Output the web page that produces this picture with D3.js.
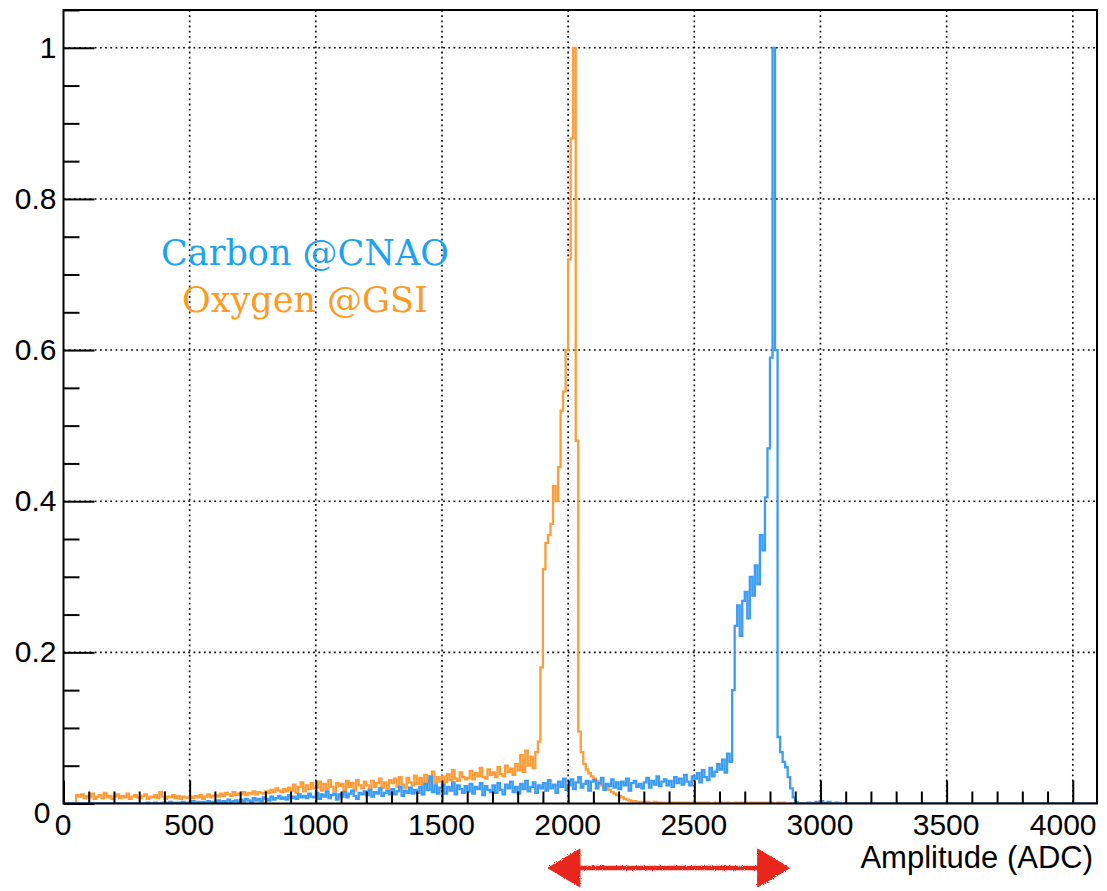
<!DOCTYPE html>
<html>
<head>
<meta charset="utf-8">
<script src="https://cdn.jsdelivr.net/npm/d3@7"></script>
<style>
  body { margin: 0; background: #fff; }
  svg text { font-family: "Liberation Sans", Arial, Helvetica, sans-serif; }
</style>
</head>
<body>
<div id="chart"></div>
<script>
// ADC spectra, 10-channel bins starting at 0, counts scaled so the peak bin is 1000
const binWidth = 10;
const adcMax = 4096;

const carbonCounts = [
  0, 0, 0, 0, 0, 0, 0, 0, 0, 0,
  0, 0, 0, 0, 0, 0, 0, 0, 0, 0,
  0, 0, 0, 0, 0, 0, 0, 0, 0, 0,
  0, 0, 0, 1, 0, 0, 1, 0, 0, 1,
  0, 1, 2, 0, 1, 0, 1, 2, 0, 1,
  1, 3, 0, 2, 1, 2, 0, 3, 1, 2,
  2, 4, 1, 3, 2, 5, 2, 3, 4, 2,
  5, 3, 6, 4, 2, 7, 4, 6, 3, 8,
  6, 4, 9, 5, 7, 10, 6, 8, 5, 11,
  7, 9, 6, 12, 8, 10, 7, 13, 9, 8,
  14, 6, 12, 9, 16, 7, 11, 13, 5, 12,
  9, 15, 8, 13, 17, 10, 6, 14, 12, 16,
  11, 18, 9, 15, 13, 20, 10, 14, 17, 12,
  19, 12, 16, 22, 10, 17, 14, 21, 13, 18,
  14, 22, 12, 26, 18, 36, 15, 24, 13, 21,
  25, 13, 22, 17, 28, 12, 24, 19, 14, 23,
  16, 26, 13, 22, 19, 27, 11, 23, 18, 15,
  24, 14, 27, 18, 12, 25, 20, 29, 15, 22,
  13, 26, 19, 30, 16, 22, 28, 14, 24, 20,
  27, 17, 31, 20, 25, 14, 29, 22, 33, 18,
  24, 32, 19, 28, 35, 21, 26, 30, 17, 29,
  31, 20, 27, 34, 18, 26, 23, 32, 21, 28,
  19, 29, 24, 33, 17, 27, 30, 22, 26, 20,
  28, 34, 21, 30, 25, 36, 23, 29, 32, 24,
  30, 22, 35, 27, 33, 25, 38, 29, 24, 36,
  33, 40, 28, 44, 35, 31, 47, 36, 42, 52,
  45, 58, 41, 66, 55, 150, 235, 262, 222, 268,
  280, 245, 300, 275, 315, 290, 355, 335, 405, 470,
  590, 1000, 600, 88, 68, 55, 48, 35, 20, 8,
  2, 0, 0, 0, 0, 1, 0, 0, 2, 0,
  3, 1, 0, 2, 0, 0, 1, 0, 0, 0
];

const oxygenCounts = [
  0, 0, 0, 0, 0, 11, 9, 12, 7, 10,
  8, 13, 6, 9, 11, 7, 14, 8, 10, 6,
  9, 12, 7, 10, 8, 13, 6, 9, 11, 8,
  7, 10, 12, 6, 9, 8, 11, 7, 15, 9,
  6, 9, 8, 11, 7, 10, 6, 9, 8, 7,
  9, 7, 10, 8, 11, 6, 9, 12, 8, 10,
  11, 9, 13, 10, 14, 12, 10, 15, 11, 13,
  12, 15, 11, 14, 13, 16, 12, 15, 14, 13,
  16, 14, 18, 15, 20, 17, 15, 19, 16, 21,
  17, 25, 14, 22, 28, 16, 24, 19, 27, 20,
  21, 29, 17, 26, 19, 31, 22, 16, 27, 23,
  26, 18, 30, 22, 27, 17, 31, 24, 20, 29,
  24, 19, 30, 22, 27, 33, 21, 28, 20, 31,
  27, 33, 22, 35, 25, 21, 34, 28, 24, 37,
  26, 34, 25, 38, 28, 31, 42, 27, 35, 29,
  36, 28, 39, 31, 44, 33, 30, 41, 35, 32,
  34, 43, 32, 40, 36, 47, 35, 33, 45, 38,
  41, 35, 48, 39, 36, 50, 42, 46, 38, 52,
  44, 64, 42, 70, 50, 62, 47, 68, 82, 180,
  310, 345, 355, 370, 420, 400, 445, 520, 545, 600,
  720, 880, 1000, 480, 95, 68, 52, 45, 40, 36,
  33, 30, 26, 24, 22, 20, 18, 15, 13, 11,
  10, 8, 6, 5, 4, 3, 3, 2, 2, 2,
  1, 2, 1, 1, 2, 1, 1, 1, 0, 1,
  1, 1, 0, 1, 1, 0, 1, 1, 0, 1,
  1, 0, 1, 1, 0, 1, 0, 0, 1, 0,
  0, 1, 0, 1, 0, 0, 1, 0, 1, 0,
  1, 0, 1, 0, 1, 1, 0, 1, 0, 1,
  1, 0, 0, 1, 0, 1, 0, 0, 0, 0
];

const xTicks = [0, 500, 1000, 1500, 2000, 2500, 3000, 3500, 4000];
const yTicks = [0, 0.2, 0.4, 0.6, 0.8, 1];
const legendLabels = ["Carbon @CNAO", "Oxygen @GSI"];
const legendColors = ["#1ca2f2", "#ff9a1f"];
const lineColors = { carbon: "#3a9cf7", oxygen: "#ff9c38" };
// distance between the two peaks, shown under the axis
const arrowRange = [1920, 2878];

const W = 1107, H = 891;
const plot = { left: 63.5, right: 1097, top: 10, bottom: 803.5 };

const svg = d3.select("#chart").append("svg")
  .attr("width", W)
  .attr("height", H)
  .style("display", "block");

const x = d3.scaleLinear().domain([0, adcMax]).range([plot.left, plot.right]);
const y = d3.scaleLinear().domain([0, 1.05]).range([plot.bottom, plot.top]);

// dotted grid at the major ticks
const grid = svg.append("g")
  .attr("stroke", "#000")
  .attr("stroke-width", 1.6)
  .attr("stroke-dasharray", "1.8,3.4");
grid.selectAll("line.gx")
  .data(xTicks.filter(d => d > 0))
  .join("line")
  .attr("x1", d => x(d)).attr("x2", d => x(d))
  .attr("y1", plot.top).attr("y2", plot.bottom);
grid.selectAll("line.gy")
  .data(yTicks.filter(d => d > 0))
  .join("line")
  .attr("y1", d => y(d)).attr("y2", d => y(d))
  .attr("x1", plot.left).attr("x2", plot.right);

// turn bin counts into a step outline, normalised to the tallest bin
function histPoints(counts) {
  const peak = d3.max(counts);
  const nBins = Math.ceil(adcMax / binWidth);
  const pts = [];
  for (let i = 0; i < nBins; i++) {
    const c = i < counts.length ? counts[i] : 0;
    pts.push([i * binWidth, c / peak]);
  }
  pts.push([adcMax, pts[pts.length - 1][1]]);
  return pts;
}

svg.append("clipPath").attr("id", "plotClip")
  .append("rect")
  .attr("x", plot.left).attr("y", plot.top)
  .attr("width", plot.right - plot.left)
  .attr("height", plot.bottom - plot.top);

const step = d3.line()
  .x(d => x(d[0]))
  .y(d => y(d[1]))
  .curve(d3.curveStepAfter);

const hists = svg.append("g").attr("clip-path", "url(#plotClip)");
hists.append("path")
  .datum(histPoints(oxygenCounts))
  .attr("fill", "none")
  .attr("stroke", lineColors.oxygen)
  .attr("stroke-width", 2.3)
  .attr("d", step);
hists.append("path")
  .datum(histPoints(carbonCounts))
  .attr("fill", "none")
  .attr("stroke", lineColors.carbon)
  .attr("stroke-width", 2.3)
  .attr("d", step);

// axes, ticks pointing into the frame
const xMinor = d3.range(0, adcMax + 1, 100).filter(d => d % 500 !== 0);
svg.append("g")
  .attr("transform", "translate(0," + plot.bottom + ")")
  .call(d3.axisBottom(x).tickValues(xMinor).tickSize(-12).tickFormat(""))
  .call(g => g.select(".domain").remove())
  .selectAll("line").attr("stroke-width", 2);

const xAxis = svg.append("g")
  .attr("transform", "translate(0," + plot.bottom + ")")
  .call(d3.axisBottom(x).tickValues(xTicks).tickSize(-23).tickPadding(10).tickFormat(d3.format("d")));
xAxis.select(".domain").remove();
xAxis.selectAll("line").attr("stroke-width", 2);
xAxis.selectAll("text")
  .attr("font-size", 30)
  .attr("fill", "#000")
  .attr("dx", -1)
  .style("font-family", '"Liberation Sans", Arial, sans-serif');
// keep the last label inside the frame
xAxis.selectAll("text").each(function () {
  const t = d3.select(this);
  const box = this.getBBox();
  const tickX = x(+t.datum());
  if (tickX + box.x + box.width > plot.right) {
    t.attr("dx", plot.right - (tickX + box.x + box.width) - 2);
  }
});

const yMinor = d3.range(0, 1.051, 0.05).filter(d => Math.abs(d * 5 - Math.round(d * 5)) > 1e-6);
svg.append("g")
  .attr("transform", "translate(" + plot.left + ",0)")
  .call(d3.axisLeft(y).tickValues(yMinor).tickSize(-16).tickFormat(""))
  .call(g => g.select(".domain").remove())
  .selectAll("line").attr("stroke-width", 2);

const yAxis = svg.append("g")
  .attr("transform", "translate(" + plot.left + ",0)")
  .call(d3.axisLeft(y).tickValues(yTicks).tickSize(-31).tickPadding(7).tickFormat(d3.format("")));
yAxis.select(".domain").remove();
yAxis.selectAll("line").attr("stroke-width", 2);
yAxis.selectAll("text")
  .attr("font-size", 30)
  .attr("fill", "#000")
  .style("font-family", '"Liberation Sans", Arial, sans-serif');
// the zero label sits a little lower and to the left of the x-axis zero
yAxis.selectAll("text").filter(d => d === 0)
  .attr("dy", "0.62em")
  .attr("dx", -6);

// frame
svg.append("rect")
  .attr("x", plot.left).attr("y", plot.top)
  .attr("width", plot.right - plot.left)
  .attr("height", plot.bottom - plot.top)
  .attr("fill", "none")
  .attr("stroke", "#000")
  .attr("stroke-width", 2);

svg.append("text")
  .attr("x", 1093)
  .attr("y", 868)
  .attr("text-anchor", "end")
  .attr("font-size", 31)
  .attr("fill", "#000")
  .text("Amplitude (ADC)");

// legend
svg.selectAll("text.legend")
  .data(legendLabels)
  .join("text")
  .attr("class", "legend")
  .attr("x", 305)
  .attr("y", (d, i) => 265 + i * 47)
  .attr("text-anchor", "middle")
  .attr("font-size", 35)
  .style("font-family", '"DejaVu Serif", "Liberation Serif", serif')
  .attr("fill", (d, i) => legendColors[i])
  .text(d => d);

// hand-drawn red double arrow below the axis
const rough = svg.append("filter").attr("id", "rough");
rough.append("feTurbulence")
  .attr("type", "fractalNoise").attr("baseFrequency", 0.9).attr("numOctaves", 2).attr("result", "n");
rough.append("feDisplacementMap")
  .attr("in", "SourceGraphic").attr("in2", "n").attr("scale", 3);

const arrowY = 868;
const ax0 = x(arrowRange[0]), ax1 = x(arrowRange[1]);
const headLen = 32, headHalf = 19;
const arrow = svg.append("g").attr("fill", "#e8271c").attr("stroke", "#e8271c").attr("filter", "url(#rough)");
arrow.append("line")
  .attr("x1", ax0 + headLen - 4).attr("x2", ax1 - headLen + 4)
  .attr("y1", arrowY).attr("y2", arrowY)
  .attr("stroke-width", 4.5);
arrow.append("path")
  .attr("stroke-width", 1)
  .attr("d", d3.line()([[ax0, arrowY], [ax0 + headLen, arrowY - headHalf], [ax0 + headLen, arrowY + headHalf]]) + "Z");
arrow.append("path")
  .attr("stroke-width", 1)
  .attr("d", d3.line()([[ax1, arrowY], [ax1 - headLen, arrowY - headHalf], [ax1 - headLen, arrowY + headHalf]]) + "Z");
</script>
</body>
</html>
